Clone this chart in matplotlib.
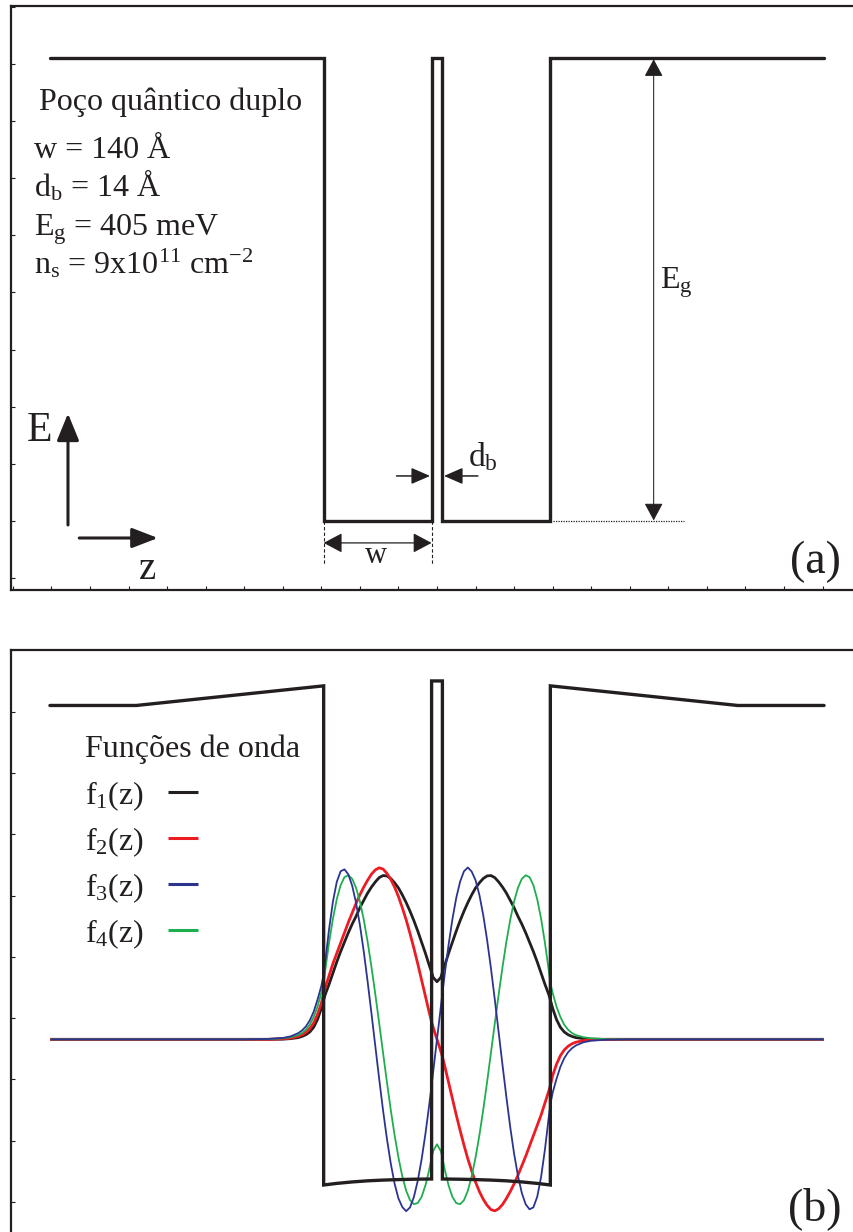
import matplotlib
matplotlib.use('Agg')
import matplotlib.pyplot as plt
import numpy as np

plt.rcParams['font.family'] = ['Liberation Serif', 'DejaVu Serif']
plt.rcParams['mathtext.fontset'] = 'custom'
plt.rcParams['mathtext.rm'] = 'Liberation Serif'
plt.rcParams['mathtext.it'] = 'Liberation Serif:italic'
plt.rcParams['mathtext.bf'] = 'Liberation Serif:bold'

INK = '#231f20'

# panel (a): square double well profile, z in Angstrom, E in meV
well_z = [-502, -147, -147, -7, -7, 7, 7, 147, 147, 502]
well_E = [405, 405, 0, 0, 405, 405, 0, 0, 405, 405]

# panel (b): self-consistent potential (band bending)
scp_z = [-502, -390, -147, -147, -130, -110, -90, -70, -50, -30, -7, -7,
         7, 7, 30, 50, 70, 90, 110, 130, 147, 147, 390, 502]
scp_E = [405, 405, 421, 13.9, 15.2, 16.4, 17.3, 17.9, 18.3, 18.6, 18.8, 425,
         425, 18.8, 18.6, 18.3, 17.9, 17.3, 16.4, 15.2, 13.9, 421, 405, 405]

# wave functions (arbitrary units)
z_wave = [-500, -300, -250, -220, -200, -190, -180, -175, -170, -165, -160, -155, -150, -147,
          -145, -140, -135, -130, -125, -120, -115, -110, -105, -100, -95, -90, -85, -80,
          -75, -70, -65, -60, -55, -50, -45, -40, -35, -30, -25, -20, -15, -10, -7,
          -5, 0, 5,
          7, 10, 15, 20, 25, 30, 35, 40, 45, 50, 55, 60, 65, 70, 75, 80, 85, 90, 95,
          100, 105, 110, 115, 120, 125, 130, 135, 140, 145, 147,
          150, 155, 160, 165, 170, 175, 180, 190, 200, 220, 250, 300, 500]

f1 = [0, 0, 0, 0, 0.001, 0.004, 0.010, 0.017, 0.027, 0.043, 0.070, 0.115, 0.180, 0.230,
      0.260, 0.320, 0.385, 0.450, 0.510, 0.565, 0.620, 0.670, 0.715, 0.765, 0.808, 0.850, 0.885, 0.915,
      0.940, 0.952, 0.950, 0.935, 0.910, 0.880, 0.840, 0.795, 0.745, 0.690, 0.630, 0.565, 0.500, 0.430, 0.390,
      0.360, 0.335, 0.360,
      0.390, 0.430, 0.500, 0.565, 0.630, 0.690, 0.745, 0.795, 0.840, 0.880, 0.910, 0.935, 0.950, 0.952,
      0.940, 0.915, 0.885, 0.850, 0.808, 0.765, 0.715, 0.670, 0.620, 0.565, 0.510, 0.450, 0.385, 0.320,
      0.260, 0.230,
      0.180, 0.115, 0.070, 0.043, 0.027, 0.017, 0.010, 0.004, 0.001, 0, 0, 0, 0]

f2 = [0, 0, 0, 0, 0.003, 0.007, 0.017, 0.026, 0.040, 0.062, 0.095, 0.145, 0.210, 0.270,
      0.300, 0.370, 0.440, 0.500, 0.560, 0.620, 0.680, 0.735, 0.790, 0.840, 0.885, 0.925, 0.960, 0.985,
      0.997, 0.990, 0.965, 0.930, 0.885, 0.830, 0.765, 0.695, 0.615, 0.530, 0.440, 0.345, 0.250, 0.155, 0.100,
      0.070, 0, -0.070,
      -0.100, -0.155, -0.250, -0.345, -0.440, -0.530, -0.615, -0.695, -0.765, -0.830, -0.885, -0.930,
      -0.965, -0.990, -0.997, -0.985, -0.960, -0.925, -0.885, -0.840, -0.790, -0.735, -0.680, -0.620,
      -0.560, -0.500, -0.440, -0.370, -0.300, -0.270,
      -0.210, -0.145, -0.095, -0.062, -0.040, -0.026, -0.017, -0.007, -0.003, 0, 0, 0, 0]

f3 = [0, 0, 0, 0.002, 0.008, 0.017, 0.036, 0.052, 0.075, 0.110, 0.160, 0.230, 0.310, 0.380,
      0.450, 0.640, 0.800, 0.915, 0.977, 0.988, 0.959, 0.893, 0.794, 0.665, 0.511, 0.336, 0.151, -0.040,
      -0.230, -0.412, -0.577, -0.721, -0.839, -0.925, -0.975, -0.999, -0.977, -0.917, -0.823, -0.699,
      -0.549, -0.378, -0.268,
      -0.190, 0, 0.190,
      0.268, 0.378, 0.549, 0.699, 0.823, 0.917, 0.977, 0.999, 0.975, 0.925, 0.839, 0.721, 0.577, 0.412,
      0.230, 0.040, -0.151, -0.336, -0.511, -0.665, -0.794, -0.893, -0.959, -0.988, -0.977, -0.915,
      -0.800, -0.640, -0.450, -0.380,
      -0.310, -0.230, -0.160, -0.110, -0.075, -0.052, -0.036, -0.017, -0.008, -0.002, 0, 0, 0]

f4 = [0, 0, 0, 0.001, 0.006, 0.012, 0.025, 0.037, 0.056, 0.085, 0.130, 0.190, 0.270, 0.330,
      0.400, 0.561, 0.701, 0.814, 0.896, 0.943, 0.954, 0.933, 0.881, 0.802, 0.696, 0.568, 0.421, 0.262,
      0.094, -0.077, -0.247, -0.409, -0.557, -0.687, -0.796, -0.880, -0.935, -0.958, -0.952, -0.916,
      -0.849, -0.756, -0.688,
      -0.650, -0.610, -0.650,
      -0.688, -0.756, -0.849, -0.916, -0.952, -0.958, -0.935, -0.880, -0.796, -0.687, -0.557, -0.409,
      -0.247, -0.077, 0.094, 0.262, 0.421, 0.568, 0.696, 0.802, 0.881, 0.933, 0.954, 0.943, 0.896,
      0.814, 0.701, 0.561, 0.400, 0.330,
      0.270, 0.190, 0.130, 0.085, 0.056, 0.037, 0.025, 0.012, 0.006, 0.001, 0, 0, 0]

wave_labels = ['f$_1$(z)', 'f$_2$(z)', 'f$_3$(z)', 'f$_4$(z)']
wave_colors = [INK, '#ed1c24', '#2b3590', '#1fae4e']
wave_widths = [2.0, 2.0, 1.3, 1.3]

params_a = ['Poço quântico duplo', 'w = 140 Å', 'd$_\\mathrm{b}$ = 14 Å',
            'E$_\\mathrm{g}$ = 405 meV',
            'n$_\\mathrm{s}$ = 9x10$^\\mathrm{11}$ cm$^\\mathrm{-2}$']

WAVE_BASE = 132.7
WAVE_SCALE = 140.3

fig = plt.figure(figsize=(8.54, 12.32), dpi=100)
ax_a = fig.add_axes([11 / 854, 1 - 590 / 1232, 852 / 854, 584 / 1232])
ax_b = fig.add_axes([11 / 854, 1 - 1275.6 / 1232, 852 / 854, 625.6 / 1232])

for ax in (ax_a, ax_b):
    ax.set_xlim(-552.5, 552.5)
    ax.set_xticks(np.arange(-550, 551, 50))
    ax.tick_params(direction='in', length=3, width=0.8, colors=INK,
                   labelleft=False, labelbottom=False, top=False, right=False)
    for sp in ax.spines.values():
        sp.set_linewidth(1.6)
        sp.set_color(INK)
ax_a.set_ylim(-60.4, 450.6)
ax_a.set_yticks(np.arange(-50, 451, 50))
ax_b.set_ylim(-60, 450.24)
ax_b.set_yticks(np.arange(0, 451, 50))


def arrow(ax, start, end, style, lw, hl, hw):
    ax.annotate('', xy=end, xytext=start,
                arrowprops=dict(arrowstyle='%s,head_length=%g,head_width=%g' % (style, hl, hw),
                                color=INK, lw=lw, shrinkA=0, shrinkB=0, mutation_scale=10))


# ---- panel (a)
ax_a.plot(well_z, well_E, color=INK, lw=2.4, solid_joinstyle='miter',
          solid_capstyle='round', zorder=4)
ax_a.plot([150, 320], [0, 0], color=INK, lw=0.9, linestyle=(0, (1, 1)))
for zz in (-147, -7):
    ax_a.plot([zz, zz], [0, -38.5], color=INK, lw=0.8, linestyle=(0, (3, 2)))
arrow(ax_a, (281, 0.5), (281, 404), '<|-|>', 0.75, 1.08, 0.58)
arrow(ax_a, (-147, -19.2), (-7, -19.2), '<|-|>', 0.9, 1.15, 0.61)
arrow(ax_a, (-52.5, 39.4), (-9, 39.4), '-|>', 1.1, 1.15, 0.5)
arrow(ax_a, (53, 39.4), (9, 39.4), '-|>', 1.1, 1.15, 0.5)
arrow(ax_a, (-478.6, -3.5), (-478.6, 94), '-|>', 2.2, 1.66, 0.68)
arrow(ax_a, (-464, -14.9), (-362, -14.9), '-|>', 2.2, 1.58, 0.61)

ax_a.text(-79, -30.5, 'w', fontsize=22, color=INK, ha='center', va='center')
ax_a.text(40, 48, 'd$_\\mathrm{b}$', fontsize=24, color=INK, ha='left', va='baseline')
ax_a.text(289, 203, 'E$_\\mathrm{g}$', fontsize=23, color=INK, ha='left', va='baseline')
ax_a.text(-531.8, 70, 'E', fontsize=30, color=INK, ha='left', va='baseline')
ax_a.text(-386.5, -50.7, 'z', fontsize=28, color=INK, ha='left', va='baseline')
ax_a.text(524, -45.9, '(a)', fontsize=33, color=INK, ha='right', va='baseline')

text_x = [-516, -522.7, -522.7, -522.7, -522.7]
text_y = [359.6, 317.3, 283.7, 250.2, 216.7]
for tx, ty, s in zip(text_x, text_y, params_a):
    ax_a.text(tx, ty, s, fontsize=23, color=INK, ha='left', va='baseline')

# ---- panel (b)
zw = np.array(z_wave)
for amp, col, lw in zip([f1, f2, f4, f3], [wave_colors[0], wave_colors[1], wave_colors[3], wave_colors[2]],
                        [wave_widths[0], wave_widths[1], wave_widths[3], wave_widths[2]]):
    ax_b.plot(zw, WAVE_BASE + WAVE_SCALE * np.array(amp), color=col, lw=lw, zorder=3)
ax_b.plot(scp_z, scp_E, color=INK, lw=2.4, solid_joinstyle='miter',
          solid_capstyle='round', zorder=4)

ax_b.text(-456.5, 363, 'Funções de onda', fontsize=23, color=INK, ha='left', va='baseline')
leg_text_y = [324.5, 287.0, 249.4, 212.0]
leg_line_y = [334.4, 296.9, 259.4, 221.9]
for lab, col, ty, ly in zip(wave_labels, wave_colors, leg_text_y, leg_line_y):
    ax_b.text(-456.5, ty, lab, fontsize=23, color=INK, ha='left', va='baseline')
    ax_b.plot([-349, -310], [ly, ly], color=col, lw=2.2, solid_capstyle='butt')
ax_b.text(524, -14.7, '(b)', fontsize=33, color=INK, ha='right', va='baseline')

fig.savefig('out.png', dpi=100)
